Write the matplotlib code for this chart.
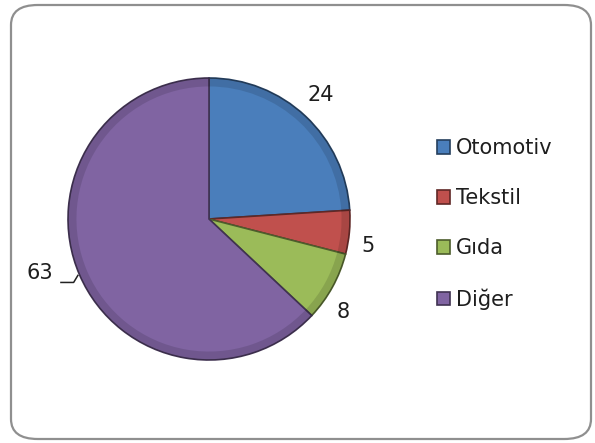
import matplotlib
matplotlib.use('Agg')
import matplotlib.pyplot as plt
from matplotlib.patches import FancyBboxPatch

# data
categories = ["Otomotiv", "Tekstil", "Gıda", "Diğer"]
values = [24, 5, 8, 63]
colors = ["#4A7EBB", "#C0504D", "#9BBB59", "#8064A2"]
edges = ["#253f5e", "#602826", "#4d5d2c", "#403251"]

W, H = 595, 443
fig = plt.figure(figsize=(W / 100, H / 100), dpi=100)
fig.patch.set_facecolor("white")

# rounded chart frame
frame = FancyBboxPatch((11 / W, 4 / H), 580 / W, 434 / H,
                       boxstyle="round,pad=0,rounding_size=0.045",
                       transform=fig.transFigure, facecolor="none",
                       edgecolor="#8f8f8f", linewidth=1.6, zorder=-1)
fig.patches.append(frame)

# pie axes: centre (209, 219) px, radius 141 px
cx, cy, r = 209, 219, 141
ax = fig.add_axes([(cx - r) / W, (H - cy - r) / H, 2 * r / W, 2 * r / H])

wedges, _ = ax.pie(values, colors=colors, startangle=90, counterclock=False,
                   radius=1.0, wedgeprops=dict(linewidth=1.2))
for w, ec in zip(wedges, edges):
    w.set_edgecolor(ec)

# soft bevel rim
ax.pie(values, colors=["none"] * 4, startangle=90, counterclock=False,
       radius=1.0, wedgeprops=dict(width=0.06, linewidth=0,
                                   facecolor=(0, 0, 0, 0.12)))
ax.set_xlim(-1, 1)
ax.set_ylim(-1, 1)
ax.set_aspect("equal")
ax.axis("off")

# data labels (placed like Excel best fit)
lab_pos = [(0.79, 0.88), (1.13, -0.19), (0.95, -0.66), (-1.20, -0.38)]
for (x, y), v in zip(lab_pos, values):
    ax.text(x, y, str(v), ha="center", va="center", fontsize=15,
            color="#1e1e1e", family="DejaVu Sans", clip_on=False)
# leader for 63
ax.plot([-1.05, -0.96, -0.93], [-0.45, -0.45, -0.40], color="#222222",
        lw=1.1, clip_on=False)

leg = fig.legend(wedges, categories, loc="upper left",
                 bbox_to_anchor=(429 / W, 1 - 130 / H), frameon=False,
                 prop=dict(family="DejaVu Sans", size=15),
                 handlelength=0.6, handleheight=0.6, handletextpad=0.3,
                 labelspacing=1.44, borderaxespad=0)
for t in leg.get_texts():
    t.set_color("#1e1e1e")

plt.savefig("out.png", dpi=100, facecolor="white")
